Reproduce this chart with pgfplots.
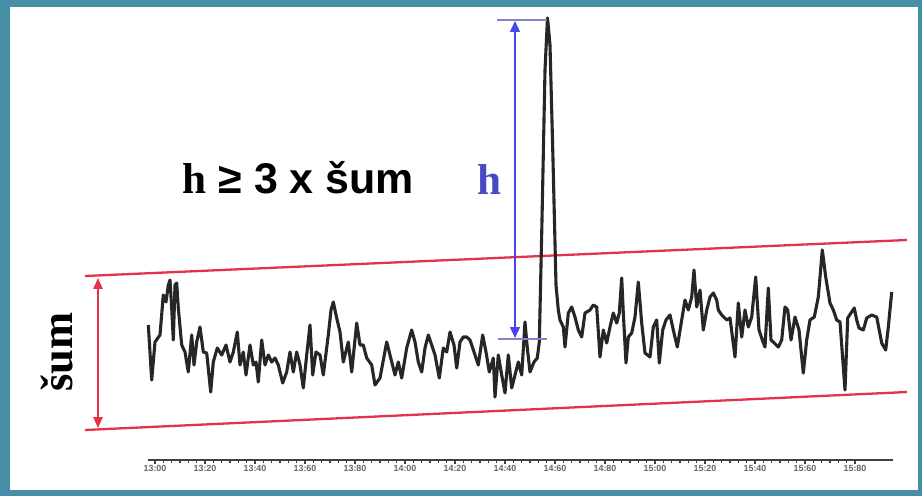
\documentclass[border=0pt]{standalone}
\usepackage{pgfplots}
\pgfplotsset{compat=1.18}
\usepackage{pgfplotstable}
\usepackage{fontspec}
\setmainfont{Liberation Sans}
\newfontfamily\serifb{Liberation Serif}
\usetikzlibrary{arrows.meta}
\definecolor{teal1}{RGB}{70,143,166}
\definecolor{redl}{RGB}{228,50,75}
\definecolor{bluea}{RGB}{70,70,235}
\definecolor{blueh}{RGB}{72,72,200}
\definecolor{capc}{RGB}{130,130,210}
\def\pu{0.0130152cm}

\pgfplotstableread{
x y
148.3 325
151.7 380
155 342
160 335
163.3 295
166 302
168.3 285
170 280
171.7 308
173.3 340
175 285
176.7 283
178.3 308
181.7 345
185 352
188.3 372
191.7 335
194 365
196.7 342
200 327
203.3 352
206.7 353
210.7 392
213.3 362
217.3 348
221.7 355
226 345
230 362
233.3 352
237.3 332
240 365
243.3 352
246 375
250 345
253.3 365
256 362
258.3 382
261.7 340
265 365
268.3 355
271.7 362
275 358
278.3 365
282.7 383
286.7 372
290 352
293.3 372
296.7 352
300 365
303.3 388
306.7 355
310 325
312.7 375
316 352
320 355
323.3 375
328.3 335
331 310
333.3 302
336.7 318
340 332
343.3 362
348.3 342
351.7 372
356.7 323
360 345
363.3 345
366.7 358
371.7 365
375 385
380 378
386.7 342
390 355
395 375
398.3 362
401.7 378
406.7 348
411.7 330
415 342
418.3 362
421.7 372
425 348
428.3 335
431.7 345
435 355
439.3 378
443.3 348
446.7 352
450 332
454 345
456.7 368
460 342
463.3 337
466.7 337
470 340
474 352
478.3 365
482.7 335
486 352
489.3 372
493.3 358
495 397
498.3 355
501.7 375
505 393
508.3 355
511.7 388
515 375
518.3 362
521.7 375
525 322
527.3 348
530 372
534 362
537.3 358
539.3 342
542 220
545 70
547.5 18
550 45
553 160
556 285
558.3 310
560 320
563.3 327
565 347
568.3 313
571.7 307
575 317
578.3 330
581.7 337
585 313
590 310
593.3 305
596.7 307
600 357
603.3 330
606.7 343
610 327
613.3 313
616.7 323
619.3 313
621.7 278
623.3 313
626 363
628.3 337
631.7 333
635 317
638.3 282
641.7 323
645 353
650 357
653.3 327
656.7 320
659.3 363
662.7 330
666 320
670 315
673.3 330
677.3 347
681.7 320
685 300
688.3 310
691.7 297
694 270
696.7 307
700 290
703.3 330
706.7 310
710 297
713.3 293
716.7 300
718.3 310
721.7 315
726.7 320
730 318
735 357
738.3 303
741.7 337
745 310
748.3 327
751.7 317
755.7 277
759 330
762.3 340
765 347
768.3 288
771 340
774.3 343
778.3 347
781.7 340
785 307
787.7 310
791 340
795 317
799 330
803.3 373
806.7 340
810 320
814.3 317
818.3 297
822.3 250
825.7 277
830 303
833.3 310
836.7 320
840 322
845 390
847.7 318
851 313
854.3 308
856.7 320
859 328
863.3 330
866.7 318
871.7 315
876.7 317
881.7 343
885.7 350
888.3 327
891.7 292
}\signal

\begin{document}
\begin{tikzpicture}
\begin{axis}[
  at={(0,0)}, anchor=south west,
  scale only axis, width=922*\pu, height=496*\pu,
  xmin=0, xmax=922, ymin=0, ymax=496, y dir=reverse,
  hide axis, clip=false,
]
% frame
\fill[teal1] (axis cs:0,0) rectangle (axis cs:922,496);
\fill[white] (axis cs:10,7) rectangle (axis cs:918,490);
% noise band
\addplot[redl, line width=0.85pt, no markers] coordinates {(85,276) (907,240)};
\addplot[redl, line width=0.85pt, no markers] coordinates {(85,430) (907,392)};
% signal
\addplot[black!85, line width=1.15pt, line join=round, no markers] table[x=x,y=y] {\signal};
% noise arrow
\draw[redl, line width=0.5pt, {Triangle[length=4pt,width=3.4pt]}-{Triangle[length=4pt,width=3.4pt]}] (axis cs:98,278) -- (axis cs:98,428);
% height arrow
\draw[capc, line width=0.5pt] (axis cs:497,20) -- (axis cs:547,20);
\draw[capc, line width=0.5pt] (axis cs:498,339) -- (axis cs:547,339);
\draw[bluea, line width=0.6pt, {Triangle[length=4pt,width=3.6pt]}-{Triangle[length=4pt,width=3.6pt]}] (axis cs:515,21) -- (axis cs:515,338);
% labels
\node[anchor=base west, inner sep=0pt] at (axis cs:182,193)
  {\fontsize{16}{18}\selectfont{\serifb\bfseries h} \fontsize{15.9}{18}\selectfont\bfseries ≥ 3 x šum};
\node[anchor=base west, inner sep=0pt, text=blueh] at (axis cs:477,194)
  {\fontsize{16}{18}\selectfont\serifb\bfseries h};
\node[anchor=base west, inner sep=0pt, rotate=90] at (axis cs:72,392)
  {\fontsize{16.5}{18}\selectfont\serifb\bfseries šum};
\end{axis}
\begin{axis}[
  at={(148*\pu,36*\pu)}, anchor=south west,
  scale only axis, width=745*\pu, height=5*\pu,
  xmin=148, xmax=893, ymin=0, ymax=1,
  axis x line*=bottom, axis y line=none,
  axis line style={black!75, line width=0.8pt},
  xtick={155,205,...,855},
  xticklabels={13:00,13:20,13:40,13:60,13:80,14:00,14:20,14:40,14:60,14:80,15:00,15:20,15:40,15:60,15:80},
  minor x tick num=5,
  tick align=outside,
  major tick length=4*\pu, minor tick length=3*\pu,
  tick style={black!75, line width=0.6pt},
  xticklabel style={font=\fontsize{3.3}{4}\selectfont\bfseries, text=black!60, inner sep=0.5pt, yshift=0.3pt},
]
\addplot[draw=none] coordinates {(148,0) (893,0)};
\end{axis}
\end{tikzpicture}
\end{document}
